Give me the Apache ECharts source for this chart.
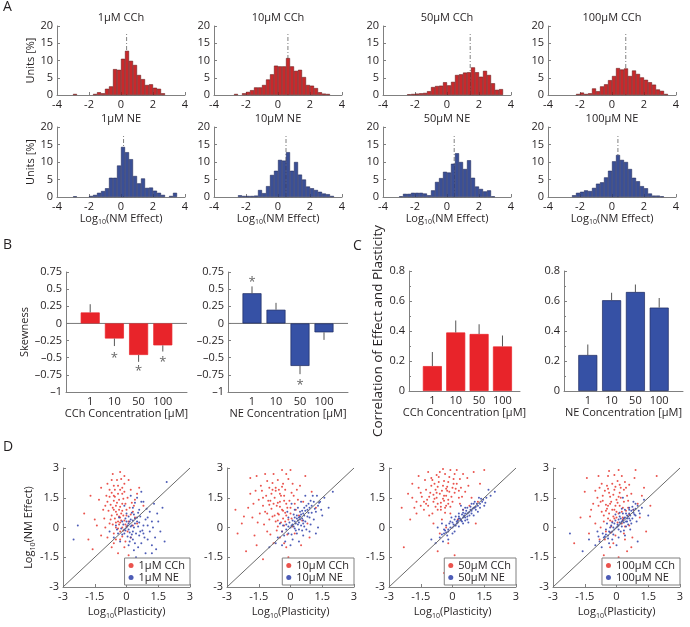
<!DOCTYPE html>
<html><head><meta charset="utf-8">
<script src="https://cdn.jsdelivr.net/npm/echarts@6/dist/echarts.min.js"></script>
<style>html,body{margin:0;padding:0;background:#fff}#c{width:690px;height:627px}</style>
</head><body><div id="c"></div>
<script>
// ---------------- DATA ----------------
const concLabels = ['1', '10', '50', '100'];
const titlesCCh = ['1μM CCh', '10μM CCh', '50μM CCh', '100μM CCh'];
const titlesNE = ['1μM NE', '10μM NE', '50μM NE', '100μM NE'];
// histogram bins: from -4 to 4 with width 0.25 (32 bins), values in % units
const binStart = -4, binWidth = 0.25;
const histCCh1 = [0,0,0,0,0.3,0,0,0,0,0.3,0.8,0.5,1.8,2.5,7.5,7.3,10.5,12.8,9.9,8.7,5.8,4.6,2.9,3.1,2.1,1.8,0.5,0,0,0,0,0];
const histCCh10 = [0,0,0,0,0,0.3,0,0.5,0.9,1.4,2.2,2.2,2.9,4.5,6.0,8.5,8.3,8.3,10.7,8.3,7.0,7.3,5.2,2.9,2.7,2.0,0.8,0.4,0.3,0,0,0];
const histCCh50 = [0,0,0,0,0,0,0.2,0.3,0.4,0.5,0.6,1.1,2.3,2.6,2.7,3.7,2.8,3.8,5.8,6.0,6.5,6.6,8.0,6.6,5.3,7.0,5.8,3.4,1.5,1.7,0,0];
const histCCh100 = [0,0,0,0,0,0,0,0.3,0.7,0.3,0.5,1.9,1.1,2.5,3.1,4.3,5.5,7.8,7.4,7.7,5.5,7.1,6.1,5.1,4.4,3.7,3.0,1.6,1.2,0.3,0,0];
const histNE1 = [0,0,0,0,0.2,0,0,0,0.3,0.6,1.2,1.7,2.5,5.5,5.5,9.0,14.3,12.8,10.8,6.0,3.9,5.3,2.6,2.7,1.8,1.2,0.6,0,0.3,1.2,0,0];
const histNE10 = [0,0,0,0,0,0,0.5,0.3,0.3,0.3,0.4,2.0,1.1,3.1,6.3,7.5,10.6,10.4,12.8,7.5,10.0,6.4,5.0,3.0,2.5,2.0,1.5,1.0,0.8,0.3,0,0];
const histNE50 = [0,0,0,0,0.2,0.9,0.9,1.2,1.2,1.2,1.0,0.5,1.9,4.3,5.4,7.2,7.0,9.5,12.5,10.0,8.0,10.5,5.5,3.0,2.3,1.6,1.9,0.2,0,0,0,0];
const histNE100 = [0,0,0,0,0,0,0.5,1.2,1.5,1.9,1.7,2.6,3.8,4.2,5.6,7.5,10.2,12.0,10.6,10.0,8.0,5.5,4.5,3.1,2.5,1.0,0.4,0.4,0.2,0,0,0];
const medianCCh = [0.35, 0.62, 1.45, 0.86];
const medianNE = [0.16, 0.5, 0.45, 0.37];
const medianTop = 18;
// skewness (panel B)
const skewCCh = [0.16, -0.22, -0.46, -0.32];
const skewCChErr = [0.12, 0.11, 0.10, 0.09];
const skewCChStar = [null, -0.46, -0.65, -0.52];
const skewNE = [0.44, 0.20, -0.62, -0.13];
const skewNEErr = [0.10, 0.10, 0.12, 0.11];
const skewNEStar = [0.64, null, -0.86, null];
// correlation (panel C)
const corrCCh = [0.166, 0.39, 0.38, 0.297];
const corrCChErr = [0.094, 0.08, 0.065, 0.073];
const corrNE = [0.24, 0.605, 0.66, 0.556];
const corrNEErr = [0.07, 0.05, 0.05, 0.064];
// scatter (panel D): [log10 plasticity, log10 NM effect]
const scatCCh1 = [[-0.3,0.5],[-0.5,0.8],[-0.2,1.2],[-0.6,1.6],[-0.4,2.1],[-0.7,2.4],[-0.1,2.6],[0.2,1.9],[-0.9,1.3],[-1.1,0.9],[-1.3,1.4],[-0.8,0.2],[-0.6,-0.3],[-0.3,-0.6],[-0.1,-1.0],[0.1,0.3],[0.3,0.8],[0.4,1.4],[-0.2,0.0],[-0.4,0.3],[-0.5,1.1],[-0.7,0.6],[-0.2,1.7],[0.0,0.9],[-0.3,-0.2],[-0.9,-0.5],[-1.5,0.4],[-1.8,-0.6],[-0.4,-1.3],[0.2,-0.5],[0.5,0.2],[0.6,2.0],[-0.1,2.2],[-0.8,1.9],[-1.0,0.0],[-0.5,0.0],[-0.15,0.6],[-0.35,1.4],[-0.65,1.0],[0.05,1.5],[-0.25,0.35],[-0.45,0.65],[-0.05,0.15],[-1.2,2.0],[-2.0,0.7],[0.8,1.1],[-0.6,-0.8],[0.1,-1.4],[-1.6,-1.1],[-0.3,2.8],[0.3,0.1],[-0.75,0.4],[-0.55,1.9],[0.15,1.0],[-0.95,1.6],
  [-0.35,0.9],[-0.55,0.45],[-0.15,1.45],[-0.75,1.15],[-0.25,2.45],[-0.6,2.1],[0.0,0.6],[-0.4,1.7],[-0.85,0.85],[-0.2,-0.45],[-0.5,-0.6],[0.25,1.25],[-1.05,0.45],[-0.3,1.05],[-0.65,0.15],[-0.1,1.8],[-0.45,2.4],[0.4,0.5],[-0.9,2.2],[-1.4,0.1],[-0.7,-1.0],[0.1,2.4],[-0.05,-0.7],[-1.2,-0.4],[0.5,1.7],[-0.35,0.15],[-0.6,1.35],[-1.7,1.6],[-0.2,0.85],[0.05,-0.2],
  [-0.25,0.7],[-0.45,1.25],[-0.1,0.35],[-0.6,0.9],[-0.3,1.9],[-0.15,-0.15],[-0.5,0.25],[-0.8,1.55],[-0.05,1.2],[-0.35,0.55],[-0.7,1.75],[0.2,0.65],[-0.4,-0.05],[-0.2,2.0],[-0.55,1.55],[0.0,0.05],[-1.0,1.1],[-0.3,0.25],[0.35,1.1],[-0.65,2.7]];
const scatNE1 = [[0,0],[0.1,0.2],[-0.1,-0.1],[0.2,0.4],[0.3,-0.2],[0.5,0.5],[0.6,-0.4],[0.8,0.1],[1.0,-0.6],[1.2,-0.9],[1.4,-1.1],[0.9,-1.3],[0.4,-0.8],[0.2,-0.5],[-0.2,0.3],[-0.4,-0.3],[0.0,0.7],[0.3,1.0],[0.5,1.5],[0.7,1.8],[1.1,0.8],[1.5,0.3],[1.6,-0.2],[-0.3,-0.7],[-0.6,-0.5],[0.1,-0.9],[0.6,0.9],[0.9,0.4],[1.3,1.2],[1.9,2.3],[0.2,1.6],[-0.1,1.1],[0.4,0.2],[0.15,-0.25],[-0.05,0.45],[0.7,-0.8],[1.1,-0.2],[0.35,0.65],[-0.25,-0.05],[0.05,-0.45],[1.7,1.0],[-0.8,-0.2],[0.45,-1.5],[0.25,0.1],[0.8,1.3],[1.2,0.3],[-0.5,0.1],[0.6,0.25],[-2.3,0.1],[-2.5,-0.6],
  [0.05,0.1],[-0.15,0.15],[0.3,0.35],[0.45,-0.3],[0.75,-0.15],[0.55,-1.0],[1.0,0.1],[0.85,-0.5],[0.25,0.75],[-0.35,0.5],[0.15,-0.7],[1.35,-0.5],[1.2,-1.3],[0.65,0.55],[0.4,1.25],[-0.1,-0.3],[0.95,0.95],[1.45,0.7],[0.1,0.55],[-0.45,-0.1],[0.35,-1.15],[0.7,1.3],[1.8,-0.7],[0.0,0.3],[0.55,0.05],
  [0.1,-0.1],[0.2,0.05],[0.35,0.0],[0.5,0.3],[0.65,-0.2],[0.4,0.45],[-0.05,-0.15],[0.25,-0.35],[0.8,-0.3],[0.15,0.3],[1.0,0.5],[0.55,0.75],[-0.2,-0.35],[0.3,-0.6],[1.25,0.0]];
const scatCCh10 = [[-0.4,0.9],[-0.8,1.2],[-1.2,0.8],[-1.5,1.4],[-1.8,0.5],[-2.0,1.0],[-1.0,2.0],[-0.6,2.4],[-0.2,2.7],[0.1,2.2],[-0.3,1.6],[-0.7,0.3],[-1.1,-0.2],[-0.5,-0.5],[-0.2,-1.0],[0.2,-0.3],[0.4,0.6],[0.6,1.3],[0.3,1.9],[-0.1,0.4],[-0.9,1.7],[-1.4,2.1],[-1.7,-0.4],[-2.3,0.2],[-0.5,1.3],[-0.3,0.1],[0.0,1.0],[-0.6,0.7],[-1.3,1.1],[-0.8,-0.8],[-0.1,-1.5],[0.5,-0.9],[0.8,0.2],[1.0,1.8],[0.7,2.6],[-0.4,2.9],[-1.6,2.6],[-1.9,1.7],[-2.5,-0.3],[-1.0,0.4],[-0.2,0.6],[-0.45,0.25],[-0.75,1.5],[-0.05,1.35],[-1.25,0.15],[0.25,0.9],[-0.55,1.9],[-1.45,0.7],[-0.85,2.25],[-0.15,-0.35],[0.15,1.6],[-0.65,-0.15],[-2.1,-1.2],[-1.3,-1.6],[0.9,-0.5],[-0.35,2.2],[-1.05,1.35],[-0.25,0.75],[1.2,1.0],[-2.6,0.9],
  [-0.5,1.05],[-0.9,0.95],[-1.15,1.6],[-0.35,0.45],[-0.7,1.85],[-0.2,1.2],[-1.55,0.25],[-0.6,0.05],[-0.95,-0.35],[0.05,0.45],[-0.4,-0.2],[-1.35,1.85],[-0.8,2.7],[-0.1,2.45],[0.35,1.4],[0.55,0.35],[-1.75,1.2],[-2.2,0.55],[-0.45,1.6],[-1.1,2.35],[-0.65,1.1],[-0.3,-0.8],[0.1,0.05],[-1.6,-0.9],[-0.85,0.55],[0.45,2.1],[-0.25,1.9],[-1.9,2.5],[0.0,2.9],[-0.55,0.65],
  [-0.6,1.25],[-0.35,0.85],[-1.0,1.15],[-0.15,1.0],[-0.75,0.6],[-0.5,1.7],[-1.3,1.5],[-0.25,0.3],[-0.85,1.9],[0.05,1.75],[-0.4,2.05],[-1.1,0.7],[-0.6,0.35],[0.2,1.2],[-1.65,1.85],[-0.95,1.35],[-0.3,1.35],[-0.7,2.0],[0.0,0.7],[-1.2,2.7]];
const scatNE10 = [[0,0],[0.2,0.3],[-0.2,-0.1],[0.4,0.5],[0.6,0.7],[0.8,0.9],[1.0,1.1],[1.2,0.8],[1.4,1.3],[0.5,0.1],[0.3,-0.3],[0.1,-0.6],[-0.3,-0.4],[-0.5,0.2],[-0.1,0.5],[0.7,0.3],[0.9,0.5],[0.2,0.9],[0.5,1.3],[0.7,1.6],[1.1,0.4],[1.3,0.0],[0.0,-0.9],[-0.4,-0.9],[0.6,-0.4],[0.35,0.15],[0.15,0.05],[-0.05,0.25],[0.45,0.8],[0.85,1.2],[1.6,1.5],[1.8,1.0],[-0.6,-0.5],[0.25,-0.15],[0.95,0.15],[0.55,0.45],[-0.15,0.8],[0.05,1.2],[1.05,1.6],[0.75,-0.1],[0.3,0.6],[-0.35,0.1],[1.5,0.6],[0.65,1.0],[0.1,0.35],[-0.25,-0.7],[0.4,-0.7],[1.2,-0.3],[2.0,1.8],[-1.0,-1.0],
  [0.1,0.15],[0.3,0.45],[0.5,0.65],[0.7,0.85],[0.9,1.0],[1.1,1.3],[1.3,1.1],[0.4,0.25],[0.6,0.2],[0.2,-0.05],[-0.1,-0.3],[-0.2,0.15],[0.8,0.55],[1.0,0.75],[0.35,1.0],[0.55,-0.15],[1.25,1.6],[0.15,0.65],[-0.4,-0.2],[0.45,0.4],[0.65,0.05],[1.45,0.9],[0.05,-0.35],[0.9,-0.2],[-0.7,-0.8],
  [0.25,0.2],[0.45,0.55],[0.65,0.6],[0.85,0.75],[0.05,0.1],[-0.1,0.05],[0.35,0.35],[0.55,0.85],[0.75,1.1],[1.15,0.95],[0.2,0.5],[0.6,0.35],[1.35,1.25],[0.4,-0.1],[0.95,1.35]];
const scatCCh50 = [[-0.4,1.6],[-0.8,1.9],[-1.2,1.4],[-1.6,2.0],[-1.0,2.5],[-0.6,2.8],[-0.2,2.3],[0.1,2.7],[0.4,2.0],[0.7,2.5],[1.0,2.8],[1.3,2.2],[-0.3,1.1],[-0.7,0.9],[-1.1,0.6],[-1.5,1.1],[-1.9,1.5],[-2.0,0.4],[-0.5,0.4],[0.0,1.3],[0.3,1.5],[-0.1,0.7],[-0.9,1.3],[-1.3,2.4],[-0.45,2.1],[-0.75,1.5],[0.2,2.9],[0.6,1.8],[-1.7,0.7],[-0.25,1.85],[-0.55,1.25],[-1.05,1.75],[-0.15,2.55],[0.15,1.95],[-1.35,0.9],[-0.85,2.2],[-0.35,0.75],[0.5,0.9],[-0.6,-0.3],[-0.2,-0.8],[0.1,-1.4],[0.6,-1.9],[-0.4,-2.3],[0.9,-2.0],[1.2,1.3],[0.8,1.1],[-2.4,1.0],[-0.9,0.2],[0.35,2.45],[-1.9,2.2],[-0.05,1.55],[1.5,2.9],[-0.65,2.55],[-1.15,1.1],[0.25,0.4],[-0.3,0.0],[-2.3,-1.0],[1.1,0.2],[-0.7,-1.2],[0.0,2.0],
  [-0.5,1.85],[-0.9,1.65],[-0.2,1.4],[-0.65,2.3],[-1.25,1.9],[-0.35,2.7],[0.05,2.45],[-0.8,1.05],[-1.45,1.55],[-0.1,1.05],[0.35,1.2],[0.5,2.7],[-1.0,2.1],[-0.4,1.35],[-0.7,1.2],[-1.6,2.6],[-0.25,2.05],[0.2,2.2],[-1.8,1.0],[-0.55,0.9],[-1.15,2.8],[0.75,2.1],[-0.45,2.95],[-2.1,1.7],[-0.95,0.7],[0.1,1.75],[-0.3,1.6],[-0.75,1.75],[0.9,1.5],[-1.35,1.3],
  [-0.6,1.7],[-0.3,1.95],[-0.85,1.45],[-0.45,1.45],[-1.1,1.55],[-0.15,1.8],[-0.7,2.05],[-0.95,2.4],[-0.4,2.35],[-0.2,1.2],[0.05,2.2],[-1.5,1.75],[-0.55,1.05],[0.3,1.85],[-1.25,1.2],[-0.75,2.65],[-0.1,2.9],[0.45,1.55],[-1.7,1.3],[-0.35,1.0]];
const scatNE50 = [[-0.6,-0.5],[-0.4,-0.3],[-0.2,-0.1],[0.0,0.0],[0.2,0.2],[0.4,0.4],[0.6,0.5],[0.8,0.8],[1.0,1.0],[1.2,1.1],[1.4,1.3],[1.6,1.5],[1.8,1.6],[-0.3,0.1],[0.1,0.4],[0.3,0.7],[0.5,0.9],[0.7,1.0],[0.9,1.2],[1.1,0.9],[1.3,1.0],[0.5,0.2],[0.7,0.4],[0.0,-0.3],[-0.5,0.2],[-0.1,0.3],[0.3,0.05],[0.9,0.7],[1.5,1.1],[-0.8,-0.8],[-0.2,-0.6],[0.15,0.55],[0.45,0.65],[0.65,0.85],[1.05,1.3],[1.25,1.5],[0.85,1.05],[-0.35,-0.15],[0.25,0.35],[0.55,0.6],[-0.7,0.0],[-0.05,0.5],[0.4,1.1],[1.0,0.6],[1.7,1.9],[2.0,1.8],[0.1,-0.2],[-1.0,-0.6],[0.75,0.25],[-0.45,-0.7],
  [-0.5,-0.35],[-0.3,-0.25],[-0.1,0.0],[0.05,0.15],[0.2,0.3],[0.35,0.45],[0.5,0.5],[0.6,0.7],[0.75,0.75],[0.95,0.95],[1.1,1.05],[1.3,1.2],[1.45,1.4],[0.3,0.55],[0.15,0.1],[-0.15,0.2],[0.45,0.3],[0.8,0.6],[1.2,0.8],[0.6,1.0],[1.55,1.25],[-0.25,-0.4],[0.0,0.25],[0.7,0.55],[1.0,1.2],
  [-0.2,-0.2],[0.1,0.1],[0.25,0.25],[0.4,0.35],[0.55,0.55],[0.7,0.7],[0.85,0.9],[1.05,1.0],[0.3,0.45],[0.6,0.35],[0.9,0.85],[1.15,1.2],[0.5,0.75],[-0.4,-0.1],[1.35,1.45]];
const scatCCh100 = [[0,0.8],[-0.3,1.2],[-0.6,0.6],[-0.9,1.5],[-1.2,0.9],[-1.5,1.8],[-0.7,2.2],[-0.4,2.6],[0.1,2.9],[0.4,2.3],[0.7,1.7],[1.0,1.2],[1.3,2.0],[0.2,1.5],[-0.2,0.3],[-0.5,-0.2],[-0.8,-0.6],[-0.3,-1.0],[0.1,-1.5],[0.4,-0.6],[0.6,0.1],[0.3,0.5],[-0.1,1.9],[-1.0,0.2],[-1.3,-0.3],[-0.45,0.95],[-0.15,0.55],[0.15,1.1],[-0.65,1.35],[0.45,0.85],[-0.35,1.75],[0.05,2.35],[-0.85,2.6],[0.85,2.5],[1.1,0.5],[0.75,-0.5],[-0.05,-0.4],[0.2,-2.0],[-0.2,-1.8],[0.5,-1.2],[-0.6,-1.4],[1.4,-0.2],[-1.7,0.5],[-0.25,0.05],[0.35,1.9],[-0.55,1.85],[0.0,1.4],[-1.1,1.2],[0.6,0.65],[-0.4,0.45],[0.9,2.9],[-1.4,2.5],[1.6,1.1],[-2.0,-0.8],[0.25,0.2],[-0.75,0.0],[0.55,1.35],[-0.1,2.65],[1.9,2.6],[0.0,-2.2],
  [-0.2,0.9],[-0.5,1.15],[0.1,0.7],[-0.3,1.55],[0.3,1.0],[-0.7,0.8],[-0.1,0.45],[0.2,2.0],[-0.45,2.1],[0.5,1.6],[-0.85,1.1],[0.05,0.25],[-0.25,-0.25],[0.4,0.05],[-0.6,0.3],[0.15,1.75],[-0.35,2.85],[0.6,2.15],[-1.0,1.85],[0.8,0.9],[-0.15,-0.8],[0.35,-0.3],[-0.55,-0.6],[1.2,1.6],[-1.25,0.55],[0.25,2.6],[-0.05,1.1],[0.7,-1.0],[-0.4,1.95],[-0.8,2.0],
  [-0.1,0.9],[-0.35,0.7],[0.05,1.25],[-0.25,1.3],[0.25,0.8],[-0.5,0.85],[-0.15,1.65],[0.1,1.55],[-0.4,1.1],[0.35,1.3],[-0.65,1.6],[-0.2,2.2],[0.0,0.5],[0.45,2.0],[-0.3,0.35],[0.15,2.15],[-0.75,1.3],[0.55,1.0],[-0.05,2.05],[0.3,0.4]];
const scatNE100 = [[0,0],[0.2,0.2],[0.4,0.5],[0.6,0.7],[0.8,0.9],[1.0,1.1],[1.2,1.0],[-0.2,-0.2],[-0.4,-0.4],[-0.6,-0.5],[-0.8,-0.7],[-1.0,-0.9],[0.1,0.4],[0.3,0.7],[0.5,0.3],[0.7,0.2],[0.9,0.6],[-0.1,0.2],[-0.3,0.0],[-0.5,-0.1],[0.2,-0.2],[0.4,-0.4],[0.6,1.0],[0.8,1.3],[1.1,0.7],[-0.7,-1.0],[-0.2,-0.6],[0.0,-0.9],[0.15,0.55],[0.35,0.25],[0.55,0.55],[0.75,0.45],[-0.15,-0.35],[-0.45,0.2],[0.05,0.15],[0.25,0.95],[0.95,0.3],[1.3,1.4],[-1.3,-0.6],[-1.6,-1.2],[-0.9,-0.2],[0.45,0.05],[0.65,-0.1],[1.5,0.6],[-0.35,-0.8],[0.1,-0.5],[-2.2,-0.3],[1.0,-0.7],[-0.05,0.65],[0.3,1.5],
  [0.1,0.1],[0.3,0.35],[0.5,0.6],[0.7,0.85],[0.9,0.95],[-0.1,-0.1],[-0.3,-0.25],[-0.5,-0.35],[0.25,0.05],[0.45,0.3],[0.65,0.35],[0.85,0.65],[-0.05,0.35],[0.15,0.75],[0.4,0.9],[-0.25,0.1],[-0.65,-0.3],[0.55,0.15],[0.35,-0.15],[1.05,0.85],[-0.85,-0.45],[0.2,0.45],[0.6,0.45],[-0.4,-0.55],[0.75,1.05],
  [0.05,0.05],[0.15,0.25],[0.35,0.45],[0.5,0.45],[0.65,0.6],[-0.15,0.0],[-0.35,-0.2],[0.25,0.3],[0.45,0.7],[0.8,0.75],[-0.55,-0.45],[0.1,-0.1],[0.6,0.9],[-0.2,0.25],[0.9,1.2]];

// ---------------- LAYOUT / STYLE ----------------
const FONT = "'Open Sans','Liberation Sans',sans-serif";
const AX = '#808080', TXT = '#231f20';
const RED_H = '#c9282b', RED_HB = '#5a1010', BLUE_H = '#3a4f96', BLUE_HB = '#1a2250';
const RED_B = '#e8242a', BLUE_B = '#3651a5';
const RED_S = '#e8403a', BLUE_S = '#3a4aae';

const grids = [], xAxes = [], yAxes = [], series = [], legends = [], graphics = [];
function merge(a, b) {
  const o = Object.assign({}, a);
  for (const k in b) {
    if (b[k] && typeof b[k] === 'object' && !Array.isArray(b[k]) && typeof b[k] !== 'function' && o[k] && typeof o[k] === 'object') o[k] = merge(o[k], b[k]);
    else o[k] = b[k];
  }
  return o;
}
const baseAxis = {
  type: 'value',
  axisLine: {show: true, onZero: false, lineStyle: {color: AX, width: 1}},
  axisTick: {show: true, inside: true, length: 3, lineStyle: {color: AX}},
  splitLine: {show: false},
  axisLabel: {fontSize: 11, color: TXT, fontFamily: FONT, margin: 4},
  nameLocation: 'middle',
  nameTextStyle: {fontSize: 11, color: TXT, fontFamily: FONT}
};
const richLog = {
  a: {fontSize: 11, color: TXT, fontFamily: FONT, lineHeight: 15},
  s: {fontSize: 7, color: TXT, fontFamily: FONT, verticalAlign: 'bottom', lineHeight: 11}
};
function addGrid(left, top, width, height, xo, yo) {
  const gi = grids.length;
  grids.push({left, top, width, height});
  xAxes.push(merge(merge(baseAxis, {gridIndex: gi}), xo));
  yAxes.push(merge(merge(baseAxis, {gridIndex: gi}), yo));
  return gi;
}
function txt(x, y, text, font, align) {
  graphics.push({type: 'text', x, y, style: {text, font, fill: TXT, align: align || 'center', verticalAlign: 'middle'}});
}

// ---------- Panel A: histograms ----------
const histCols = [57, 214, 383, 548], histW = 128;
const histRows = [{top: 26, h: 69, ty: 18}, {top: 127, h: 70, ty: 119}];
const histSets = [
  {data: [histCCh1, histCCh10, histCCh50, histCCh100], med: medianCCh, titles: titlesCCh, color: RED_H, border: RED_HB},
  {data: [histNE1, histNE10, histNE50, histNE100], med: medianNE, titles: titlesNE, color: BLUE_H, border: BLUE_HB}
];
histSets.forEach((set, r) => {
  histCols.forEach((left, c) => {
    const row = histRows[r];
    const gi = addGrid(left, row.top, histW, row.h,
      {min: -4, max: 4, interval: 2,
        name: r === 1 ? '{a|Log}{s|10}{a|(NM Effect)}' : '', nameGap: 13,
        nameTextStyle: {rich: richLog}},
      {min: 0, max: 20, interval: 5, name: c === 0 ? 'Units [%]' : '', nameGap: 19});
    series.push({type: 'line', xAxisIndex: gi, yAxisIndex: gi, symbol: 'none', silent: true, z: 1,
      data: [[set.med[c], 0], [set.med[c], medianTop]],
      lineStyle: {color: '#808080', width: 1, type: [4, 2, 1, 2]}});
    const pts = [];
    set.data[c].forEach((v, i) => { if (v > 0) pts.push([binStart + binWidth * (i + 0.5), v]); });
    series.push({type: 'bar', xAxisIndex: gi, yAxisIndex: gi, data: pts, barWidth: histW / 32, z: 2,
      itemStyle: {color: set.color, borderColor: set.border, borderWidth: 0.5}});
    txt(left + histW / 2, row.ty, set.titles[c], '11px ' + FONT);
  });
});

// ---------- Panel B & C: bar charts ----------
function errSeries(gi, vals, errs) {
  return {type: 'custom', xAxisIndex: gi, yAxisIndex: gi, z: 3, silent: true,
    data: vals.map((v, i) => [i + 1, v, v + (v >= 0 ? errs[i] : -errs[i])]),
    renderItem: (p, api) => {
      const a = api.coord([api.value(0), api.value(1)]);
      const b = api.coord([api.value(0), api.value(2)]);
      return {type: 'line', shape: {x1: a[0], y1: a[1], x2: b[0], y2: b[1]}, style: {stroke: '#555', lineWidth: 1}};
    }};
}
function starSeries(gi, stars) {
  const d = [];
  stars.forEach((s, i) => { if (s !== null) d.push([i + 1, s]); });
  return {type: 'custom', xAxisIndex: gi, yAxisIndex: gi, z: 3, silent: true, data: d,
    renderItem: (p, api) => {
      const a = api.coord([api.value(0), api.value(1)]);
      return {type: 'text', x: a[0], y: a[1] + 3, style: {text: '*', font: '13px ' + FONT, fill: '#666', align: 'center', verticalAlign: 'middle'}};
    }};
}
const barPanels = [
  {left: 66, top: 272, w: 121, h: 120, xmax: 5, vals: skewCCh, errs: skewCChErr, stars: skewCChStar, color: RED_B, border: RED_B, xname: 'CCh Concentration [μM]', yname: 'Skewness', skew: true},
  {left: 228, top: 272, w: 120, h: 120, xmax: 5, vals: skewNE, errs: skewNEErr, stars: skewNEStar, color: BLUE_B, border: '#1c2a60', xname: 'NE Concentration [μM]', yname: '', skew: true},
  {left: 409, top: 271, w: 111, h: 120, xmax: 4.75, vals: corrCCh, errs: corrCChErr, stars: null, color: RED_B, border: RED_B, xname: 'CCh Concentration [μM]', yname: 'Correlation of Effect and Plasticity', skew: false},
  {left: 564, top: 271, w: 119, h: 120, xmax: 5, vals: corrNE, errs: corrNEErr, stars: null, color: BLUE_B, border: '#1c2a60', xname: 'NE Concentration [μM]', yname: '', skew: false}
];
barPanels.forEach(bp => {
  const yo = bp.skew
    ? {min: -1, max: 0.75, interval: 0.25, name: bp.yname, nameGap: 36,
       axisLabel: {formatter: v => v === 0 ? '0' : String(v).replace('-', '\u2013')}}
    : {min: 0, max: 0.8, interval: 0.2, name: bp.yname, nameGap: 22, nameTextStyle: {fontSize: 13.5},
       minorTick: {show: true, splitNumber: 2, length: 2, lineStyle: {color: AX}}};
  const gi = addGrid(bp.left, bp.top, bp.w, bp.h,
    {min: 0, max: bp.xmax, interval: 1, axisTick: {show: false},
     axisLabel: {formatter: v => (v >= 1 && v <= 4) ? concLabels[v - 1] : ''},
     name: bp.xname, nameGap: 16}, yo);
  if (bp.skew) {
    series.push({type: 'line', xAxisIndex: gi, yAxisIndex: gi, symbol: 'none', silent: true, z: 1,
      data: [[0, 0], [bp.xmax, 0]], lineStyle: {color: '#777', width: 1}});
  }
  series.push({type: 'bar', xAxisIndex: gi, yAxisIndex: gi, barWidth: 19, z: 2,
    data: bp.vals.map((v, i) => [i + 1, v]),
    itemStyle: {color: bp.color, borderColor: bp.border, borderWidth: 0.7}});
  series.push(errSeries(gi, bp.vals, bp.errs));
  if (bp.stars) series.push(starSeries(gi, bp.stars));
});

// ---------- Panel D: scatter ----------
const scatCols = [63, 227, 389, 553];
const scatSets = [[scatCCh1, scatNE1], [scatCCh10, scatNE10], [scatCCh50, scatNE50], [scatCCh100, scatNE100]];
scatCols.forEach((left, c) => {
  const gi = addGrid(left, 468, 127, 119,
    {min: -3, max: 3, interval: 1.5, name: '{a|Log}{s|10}{a|(Plasticity)}', nameGap: 17, nameTextStyle: {rich: richLog}},
    {min: -3, max: 3, interval: 1.5, name: c === 0 ? '{a|Log}{s|10}{a|(NM Effect)}' : '', nameGap: 23, nameTextStyle: {rich: richLog}});
  series.push({type: 'scatter', name: titlesCCh[c], xAxisIndex: gi, yAxisIndex: gi, data: scatSets[c][0],
    symbolSize: 2, itemStyle: {color: RED_S, opacity: 0.9}, z: 2});
  series.push({type: 'scatter', name: titlesNE[c], xAxisIndex: gi, yAxisIndex: gi, data: scatSets[c][1],
    symbolSize: 2, itemStyle: {color: BLUE_S, opacity: 0.9}, z: 2});
  series.push({type: 'line', xAxisIndex: gi, yAxisIndex: gi, symbol: 'none', silent: true, z: 3,
    data: [[-3, -3], [3, 3]], lineStyle: {color: '#6a6a6a', width: 1}});
  legends.push({data: [titlesCCh[c], titlesNE[c]], right: 690 - (left + 127), top: 558, orient: 'vertical',
    backgroundColor: '#fff', borderColor: '#808080', borderWidth: 1, borderRadius: 0, padding: [2, 5, 2, 4],
    itemGap: 1, itemWidth: 5, itemHeight: 5, icon: 'circle', selectedMode: false,
    textStyle: {fontSize: 11, color: TXT, fontFamily: FONT, lineHeight: 11}});
});

// panel letters
txt(3, 7, 'A', '14px ' + FONT, 'left');
txt(3, 245, 'B', '14px ' + FONT, 'left');
txt(353, 246, 'C', '14px ' + FONT, 'left');
txt(3, 447, 'D', '14px ' + FONT, 'left');

const chart = echarts.init(document.getElementById('c'));
chart.setOption({
  animation: false,
  backgroundColor: '#fff',
  grid: grids, xAxis: xAxes, yAxis: yAxes, series, legend: legends,
  graphic: graphics
});
</script></body></html>
